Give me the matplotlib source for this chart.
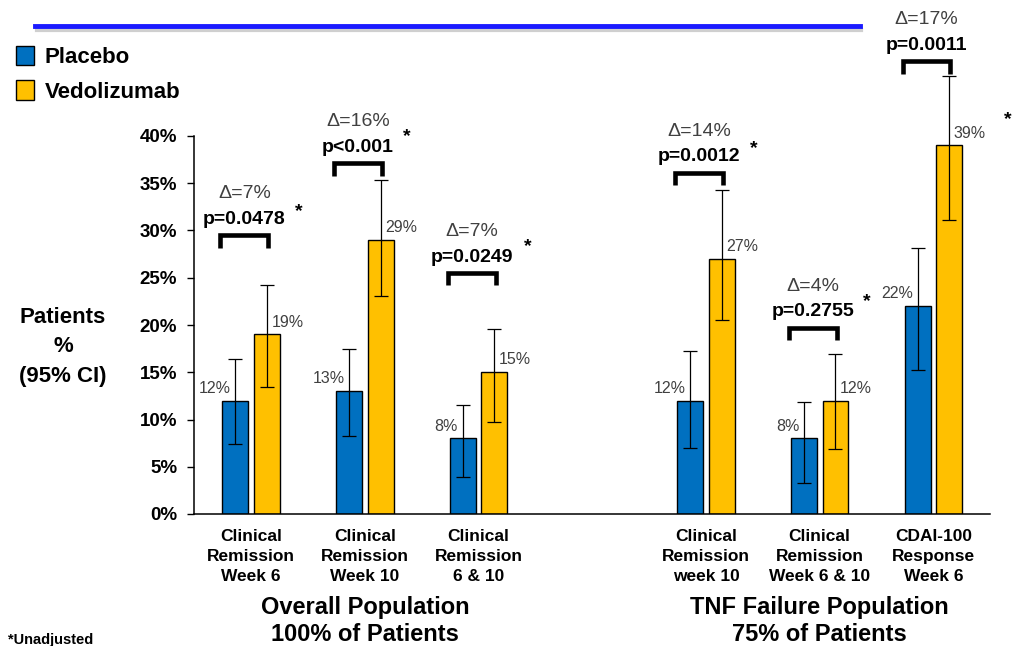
import matplotlib
matplotlib.use("Agg")
import matplotlib.pyplot as plt
import matplotlib.transforms as mtransforms
from matplotlib.lines import Line2D
import numpy as np

plt.rcParams['font.family'] = ['Liberation Sans', 'DejaVu Sans']

# ---------------- data ----------------
categories = ["Clinical\nRemission\nWeek 6", "Clinical\nRemission\nWeek 10",
              "Clinical\nRemission\n6 & 10", "Clinical\nRemission\nweek 10",
              "Clinical\nRemission\nWeek 6 & 10", "CDAI-100\nResponse\nWeek 6"]
placebo = [12, 13, 8, 12, 8, 22]
vedolizumab = [19, 29, 15, 27, 12, 39]
placebo_ci_low = [7.4, 8.3, 3.9, 7.0, 3.3, 15.2]
placebo_ci_high = [16.4, 17.5, 11.5, 17.2, 11.9, 28.1]
vedo_ci_low = [13.4, 23.1, 9.7, 20.5, 6.9, 31.1]
vedo_ci_high = [24.2, 35.3, 19.6, 34.3, 16.9, 46.3]
deltas = ["Δ=7%", "Δ=16%", "Δ=7%", "Δ=14%", "Δ=4%", "Δ=17%"]
pvalues = ["p=0.0478", "p<0.001", "p=0.0249", "p=0.0012", "p=0.2755", "p=0.0011"]
populations = ["Overall Population\n100% of Patients", "TNF Failure Population\n75% of Patients"]
population_members = [[0, 1, 2], [3, 4, 5]]
yticks = [0, 5, 10, 15, 20, 25, 30, 35, 40]

# ---------------- layout ----------------
slots = np.array([0, 1, 2, 4, 5, 6], dtype=float)
bar_w = 0.228
off = 0.139
bracket_y = [29.5, 37.1, 25.5, 36.1, 19.7, 47.9]
star_dx = [0.42, 0.37, 0.435, 0.42, 0.41, 0.65]
star_y = [32.0, 39.9, 28.3, 38.7, 22.5, 41.7]

BLUE = '#0070C0'
YELLOW = '#FFC000'
GRAY = '#404040'

W, H = 1013, 646
fig = plt.figure(figsize=(W / 100, H / 100), dpi=100)
ax = fig.add_axes([194 / W, 132 / H, (990 - 194) / W, (514 - 41.5) / H])

pl = np.array(placebo, float)
ve = np.array(vedolizumab, float)
perr = np.array([pl - np.array(placebo_ci_low), np.array(placebo_ci_high) - pl])
verr = np.array([ve - np.array(vedo_ci_low), np.array(vedo_ci_high) - ve])

b1 = ax.bar(slots - off, pl, bar_w, color=BLUE, edgecolor='black', linewidth=1.0,
            label='Placebo', zorder=2)
b2 = ax.bar(slots + off, ve, bar_w, color=YELLOW, edgecolor='black', linewidth=1.0,
            label='Vedolizumab', zorder=2)
ax.errorbar(slots - off, pl, yerr=perr, fmt='none', ecolor='black', elinewidth=0.9,
            capsize=5, capthick=0.9, zorder=3)
ax.errorbar(slots + off, ve, yerr=verr, fmt='none', ecolor='black', elinewidth=0.9,
            capsize=5, capthick=0.9, zorder=3)

# value labels
for i, x in enumerate(slots):
    ax.text(x - 0.18, pl[i] + 1.3, f"{placebo[i]}%", ha='right', va='center',
            fontsize=11.5, color=GRAY)
    ax.text(x + 0.18, ve[i] + 1.3, f"{vedolizumab[i]}%", ha='left', va='center',
            fontsize=11.5, color=GRAY)

# brackets, deltas, p-values
for i, x in enumerate(slots):
    xl, xr = x - 0.27, x + 0.15
    yb = bracket_y[i]
    ax.plot([xl, xl, xr, xr], [yb - 1.3, yb, yb, yb - 1.3], color='black', lw=3.3,
            solid_joinstyle='miter', solid_capstyle='butt', clip_on=False, zorder=4)
    cx = (xl + xr) / 2
    ax.text(cx, yb + 4.4, deltas[i], ha='center', va='center', fontsize=14, color=GRAY)
    ax.text(cx, yb + 1.9, pvalues[i], ha='center', va='center_baseline', fontsize=14,
            fontweight='bold', color='black')
    ax.text(x + star_dx[i], star_y[i], "*", ha='center', va='center', fontsize=14,
            fontweight='bold', color='black')

# axes styling
ax.set_xlim(-0.503, 6.498)
ax.set_ylim(0, 50)
ax.spines['top'].set_visible(False)
ax.spines['right'].set_visible(False)
ax.spines['left'].set_bounds(0, 40)
ax.spines['left'].set_linewidth(1.1)
ax.spines['bottom'].set_linewidth(1.1)
ax.set_yticks(yticks)
ax.set_yticklabels([f"{t}%" for t in yticks], fontsize=13.5, fontweight='bold')
ax.tick_params(axis='y', direction='out', length=5, width=1.0, pad=7)
ax.set_xticks(slots)
ax.set_xticklabels(categories, fontsize=12.5, fontweight='bold', linespacing=1.4)
ax.tick_params(axis='x', length=0, pad=11)

# population labels
trans = mtransforms.blended_transform_factory(ax.transData, fig.transFigure)
for lab, mem in zip(populations, population_members):
    cx = np.mean(slots[mem])
    ax.text(cx, 1 - 621 / H, lab, transform=trans, ha='center', va='center',
            fontsize=17, fontweight='bold', linespacing=1.2)

# y label
fig.text(63 / W, 1 - 347 / H, "Patients\n%\n(95% CI)", ha='center', va='center',
         fontsize=16, fontweight='bold', linespacing=1.55)

# legend
fig.legend(handles=[b1, b2], labels=['Placebo', 'Vedolizumab'], loc='upper left',
           bbox_to_anchor=(16 / W, 1 - 46 / H), frameon=False, borderpad=0,
           borderaxespad=0, handlelength=0.8, handleheight=0.95, handletextpad=0.5,
           labelspacing=0.55, prop={'weight': 'bold', 'size': 16})

# header rule
fig.add_artist(Line2D([37 / W, 861 / W], [1 - 29.5 / H] * 2, color='#b0b0b0', lw=3,
                      alpha=0.6, transform=fig.transFigure))
fig.add_artist(Line2D([35 / W, 860 / W], [1 - 26 / H] * 2, color='#1a1aff', lw=3.5,
                      transform=fig.transFigure))

fig.text(8 / W, 1 - 640 / H, "*Unadjusted", ha='left', va='center', fontsize=10.5,
         fontweight='bold')

fig.savefig('out.png', dpi=100)
